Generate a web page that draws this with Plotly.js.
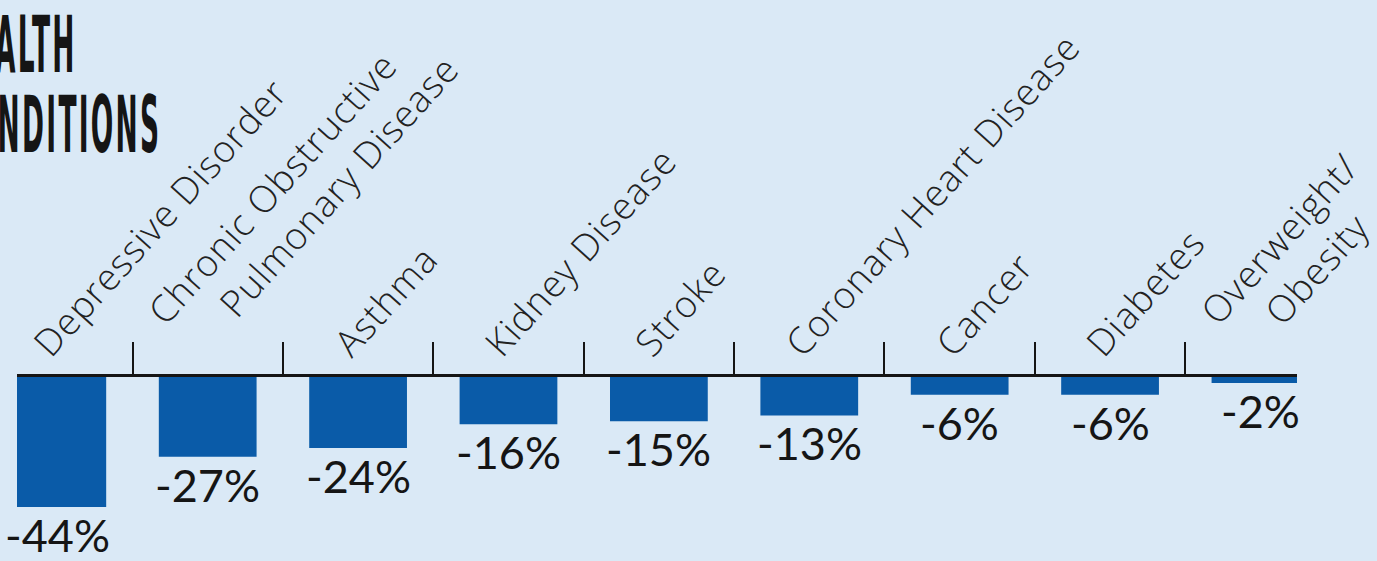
<!DOCTYPE html>
<html>
<head>
<meta charset="utf-8">
<script src="https://cdn.plot.ly/plotly-3.0.1.min.js"></script>
<style>
  html, body { margin: 0; padding: 0; background: #dae9f6; }
  #chart { width: 1377px; height: 561px; }
</style>
</head>
<body>
<div id="chart"></div>
<script>
const NB = '\u00a0';
const categories = [
  'Depressive Disorder',
  'Chronic Obstructive<br>' + NB.repeat(5) + 'Pulmonary Disease',
  'Asthma',
  'Kidney Disease',
  'Stroke',
  'Coronary Heart Disease',
  'Cancer',
  'Diabetes',
  'Overweight/<br>' + NB.repeat(4) + 'Obesity'
];
const values = [-44, -27, -24, -16, -15, -13, -6, -6, -2];
const valueLabels = values.map(v => v + '%');
const titleLines = ['HEALTH', 'CONDITIONS'];

const BG = '#dae9f6';
const BAR = '#0a5ba8';
const INK = '#151515';
const TITLE_FONT = 'DejaVu Sans Condensed, DejaVu Sans, Liberation Sans, sans-serif';

const data = [{
  type: 'bar',
  x: categories,
  y: values,
  marker: { color: BAR, line: { width: 0 } },
  width: 0.65,
  hoverinfo: 'skip'
}];

const annotations = [
  { text: titleLines[0], xref: 'paper', yref: 'paper', x: (76 - 17) / 1280, y: 2.91,
    xanchor: 'right', yanchor: 'middle', showarrow: false,
    font: { family: TITLE_FONT, size: 78, color: INK, weight: 'bold' } },
  { text: titleLines[1], xref: 'paper', yref: 'paper', x: (161 - 17) / 1280, y: 2.45,
    xanchor: 'right', yanchor: 'middle', showarrow: false,
    font: { family: TITLE_FONT, size: 78, color: INK, weight: 'bold' } }
];
categories.forEach((c, i) => {
  annotations.push({
    x: c, y: values[i], xref: 'x', yref: 'y',
    text: valueLabels[i], showarrow: false,
    xanchor: 'center', yanchor: 'top', yshift: 1,
    font: { family: 'Lato', size: 45, color: INK }
  });
});

const layout = {
  width: 1377,
  height: 561,
  paper_bgcolor: BG,
  plot_bgcolor: BG,
  margin: { l: 17, r: 80, t: 377, b: 10, pad: 0 },
  showlegend: false,
  xaxis: {
    type: 'category',
    side: 'top',
    range: [-0.268, 8.243],
    automargin: false,
    showline: true,
    linecolor: INK,
    linewidth: 3,
    ticks: 'outside',
    tickson: 'boundaries',
    ticklen: 32,
    tickwidth: 2,
    tickcolor: INK,
    tickangle: -48,
    ticklabelstandoff: -6,
    ticklabelshift: -20,
    tickfont: { family: 'Open Sans', size: 37, color: '#222', weight: 300 },
    showgrid: false,
    zeroline: false,
    fixedrange: true
  },
  yaxis: {
    range: [-58.9, 0],
    visible: false,
    showgrid: false,
    zeroline: false,
    fixedrange: true
  },
  annotations: annotations
};

Plotly.newPlot('chart', data, layout, { staticPlot: true, displayModeBar: false }).then(gd => {
  // wider tracking for the category names, as in the original lettering
  gd.querySelectorAll('.xtick text').forEach(t => { t.style.letterSpacing = '1px'; });
  const texts = [];
  gd.querySelectorAll('.annotation').forEach(g => {
    const idx = +g.getAttribute('data-index');
    if (idx > 1) return;
    const t = g.querySelector('text.annotation-text');
    if (t) texts[idx] = t;
  });
  if (!texts[1]) return;
  const LS = 6;
  const rights = texts.map(t => { const bb = t.getBBox(); return bb.x + bb.width; });
  texts.forEach(t => { t.style.letterSpacing = LS + 'px'; });
  // condense the title lettering horizontally, keeping its right edge where Plotly anchored it
  const s = 208 / (texts[1].getBBox().width - LS);
  texts.forEach((t, i) => {
    const bb = t.getBBox();
    const rNew = bb.x + bb.width - LS;
    const tx = rights[i] - s * rNew;
    t.setAttribute('transform', `translate(${tx},0) scale(${s},1)`);
  });
});
</script>
</body>
</html>
